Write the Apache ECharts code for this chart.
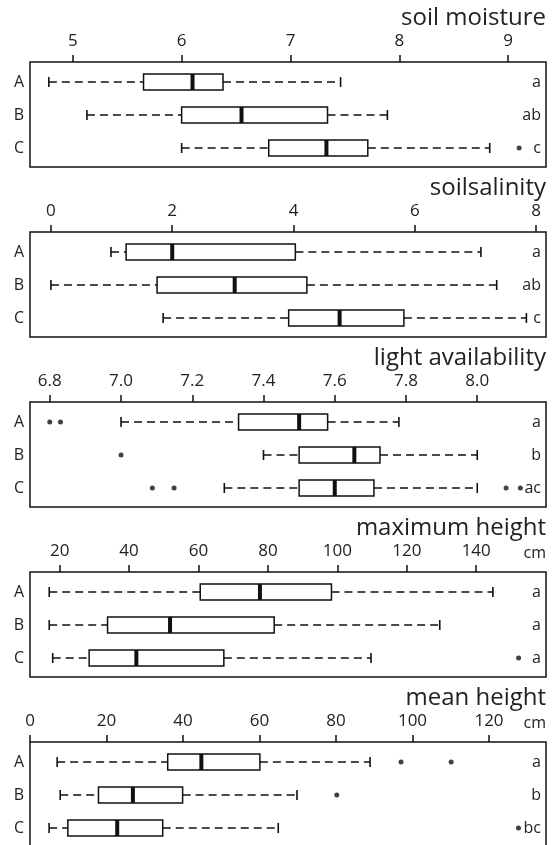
<!DOCTYPE html>
<html>
<head>
<meta charset="utf-8">
<script src="https://cdn.jsdelivr.net/npm/echarts@6/dist/echarts.min.js"></script>
<style>
  html, body { margin: 0; padding: 0; background: #fff; }
  #chart { width: 554px; height: 845px; }
</style>
</head>
<body>
<div id="chart"></div>
<script>
// ===== 数据 =====
const categories = ['A', 'B', 'C'];
const panelTitles = ['soil moisture', 'soilsalinity', 'light availability', 'maximum height', 'mean height'];
const panelUnits = ['', '', '', 'cm', 'cm'];

// [low whisker, Q1, median, Q3, high whisker] for A, B, C
const moistureStats = [[4.78, 5.65, 6.10, 6.38, 7.46], [5.13, 6.00, 6.55, 7.34, 7.89], [6.00, 6.80, 7.33, 7.71, 8.83]];
const salinityStats = [[0.99, 1.24, 2.00, 4.03, 7.09], [0.00, 1.75, 3.03, 4.22, 7.35], [1.85, 3.92, 4.76, 5.82, 7.84]];
const lightStats = [[7.00, 7.33, 7.50, 7.58, 7.78], [7.40, 7.50, 7.655, 7.727, 8.00], [7.29, 7.50, 7.60, 7.71, 8.00]];
const maxHeightStats = [[17.0, 60.5, 77.7, 98.3, 144.8], [17.0, 33.8, 51.8, 81.8, 129.5], [18.0, 28.5, 42.1, 67.3, 109.7]];
const meanHeightStats = [[7.1, 36.0, 44.8, 60.1, 88.9], [7.9, 17.9, 26.9, 39.9, 69.8], [5.0, 9.9, 22.8, 34.7, 64.9]];

// outliers: [value, category]
const moistureOutliers = [[9.10, 'C']];
const salinityOutliers = [];
const lightOutliers = [[6.80, 'A'], [6.83, 'A'], [7.00, 'B'], [7.088, 'C'], [7.149, 'C'], [8.081, 'C'], [8.121, 'C']];
const maxHeightOutliers = [[152.2, 'C']];
const meanHeightOutliers = [[97.0, 'A'], [110.1, 'A'], [80.2, 'B'], [127.7, 'C']];

// 显著性字母
const moistureLetters = ['a', 'ab', 'c'];
const salinityLetters = ['a', 'ab', 'c'];
const lightLetters = ['a', 'b', 'ac'];
const maxHeightLetters = ['a', 'a', 'a'];
const meanHeightLetters = ['a', 'b', 'bc'];

// 刻度与范围
const moistureTicks = [5, 6, 7, 8, 9];
const salinityTicks = [0, 2, 4, 6, 8];
const lightTicks = [6.8, 7.0, 7.2, 7.4, 7.6, 7.8, 8.0];
const maxHeightTicks = [20, 40, 60, 80, 100, 120, 140];
const meanHeightTicks = [0, 20, 40, 60, 80, 100, 120];

const moistureRange = [4.607, 9.347];
const salinityRange = [-0.345, 8.163];
const lightRange = [6.7445, 8.193];
const maxHeightRange = [11.46, 160.1];
const meanHeightRange = [0, 134.9];

const panels = [
    { stats: moistureStats, outliers: moistureOutliers, letters: moistureLetters, ticks: moistureTicks, range: moistureRange, digits: 0 },
    { stats: salinityStats, outliers: salinityOutliers, letters: salinityLetters, ticks: salinityTicks, range: salinityRange, digits: 0 },
    { stats: lightStats, outliers: lightOutliers, letters: lightLetters, ticks: lightTicks, range: lightRange, digits: 1 },
    { stats: maxHeightStats, outliers: maxHeightOutliers, letters: maxHeightLetters, ticks: maxHeightTicks, range: maxHeightRange, digits: 0 },
    { stats: meanHeightStats, outliers: meanHeightOutliers, letters: meanHeightLetters, ticks: meanHeightTicks, range: meanHeightRange, digits: 0 },
];

// ===== 布局 =====
const GRID_LEFT = 30;
const GRID_RIGHT = 8;
const GRID_TOP0 = 62;
const GRID_STEP = 170;
const GRID_H = 105;
const ROW_H = 33;        // px between rows
const ROW_PAD = 20;      // px from grid top to row A
const TEXT = '#222';
const LINE = '#111';
const FONT = '"Open Sans", "Noto Sans", sans-serif';

// ===== 箱线图绘制 =====
function renderBox(params, api) {
    const row = api.value(0);
    const low = api.coord([api.value(1), row]);
    const q1 = api.coord([api.value(2), row]);
    const med = api.coord([api.value(3), row]);
    const q3 = api.coord([api.value(4), row]);
    const high = api.coord([api.value(5), row]);
    const y = low[1];
    const boxH = 16;
    const capH = 10;
    const cs = params.coordSys;
    const dash = { stroke: LINE, lineWidth: 1.6, lineDash: [8, 5] };
    const solid = { stroke: LINE, lineWidth: 1.6 };
    const letters = panels[params.seriesIndex / 2 | 0].letters;

    return {
        type: 'group',
        children: [
            { type: 'line', shape: { x1: low[0], y1: y, x2: q1[0], y2: y }, style: dash },
            { type: 'line', shape: { x1: q3[0], y1: y, x2: high[0], y2: y }, style: dash },
            { type: 'line', shape: { x1: low[0], y1: y - capH / 2, x2: low[0], y2: y + capH / 2 }, style: solid },
            { type: 'line', shape: { x1: high[0], y1: y - capH / 2, x2: high[0], y2: y + capH / 2 }, style: solid },
            { type: 'rect', shape: { x: q1[0], y: y - boxH / 2, width: q3[0] - q1[0], height: boxH }, style: { fill: '#fff', stroke: LINE, lineWidth: 1.5 } },
            { type: 'rect', shape: { x: med[0] - 2, y: y - boxH / 2, width: 4, height: boxH }, style: { fill: LINE } },
            {
                type: 'text',
                x: cs.x + cs.width - 5,
                y: y,
                style: { text: letters[row], fill: TEXT, font: '16px ' + FONT, align: 'right', verticalAlign: 'middle' },
            },
        ],
    };
}

// ===== 组装 option =====
const grids = [], xAxes = [], yAxes = [], series = [], graphics = [];

panels.forEach((p, i) => {
    const top = GRID_TOP0 + i * GRID_STEP;
    // 最后一个面板超出画布底部
    const h = i === panels.length - 1 ? GRID_H + 20 : GRID_H;
    grids.push({
        left: GRID_LEFT, right: GRID_RIGHT, top: top, height: h,
        outerBoundsMode: 'none',
        show: true, borderColor: LINE, borderWidth: 1.5, backgroundColor: '#fff',
    });
    xAxes.push({
        type: 'value', gridIndex: i, position: 'top',
        min: p.range[0], max: p.range[1],
        splitLine: { show: false },
        axisLine: { show: false, onZero: false },
        axisTick: { show: true, length: 7, customValues: p.ticks, lineStyle: { color: LINE, width: 1.5 } },
        axisLabel: {
            customValues: p.ticks, margin: 12, color: TEXT, fontSize: 17, fontFamily: FONT,
            formatter: v => v.toFixed(p.digits),
        },
    });
    yAxes.push({
        type: 'value', gridIndex: i, inverse: true,
        min: -ROW_PAD / ROW_H, max: (h - ROW_PAD) / ROW_H,
        splitLine: { show: false },
        axisLine: { show: false, onZero: false }, axisTick: { show: false },
        axisLabel: {
            customValues: [0, 1, 2], margin: 6, color: TEXT, fontSize: 16, fontFamily: FONT,
            formatter: v => categories[v],
        },
    });
    series.push({
        type: 'custom', xAxisIndex: i, yAxisIndex: i,
        renderItem: renderBox,
        encode: { x: [1, 2, 3, 4, 5], y: 0 },
        data: p.stats.map((s, r) => [r].concat(s)),
        silent: true,
    });
    series.push({
        type: 'scatter', xAxisIndex: i, yAxisIndex: i,
        data: p.outliers.map(o => [o[0], categories.indexOf(o[1])]),
        symbol: 'circle', symbolSize: 5,
        itemStyle: { color: LINE },
        silent: true, z: 5,
    });
    graphics.push({
        type: 'text', right: GRID_RIGHT, top: top - 56,
        style: { text: panelTitles[i], fill: TEXT, font: '24px ' + FONT },
    });
    if (panelUnits[i]) {
        graphics.push({
            type: 'text', right: 8, top: top - 27,
            style: { text: panelUnits[i], fill: TEXT, font: '16px ' + FONT },
        });
    }
});

const chart = echarts.init(document.getElementById('chart'), null, { renderer: 'canvas' });
chart.setOption({
    backgroundColor: '#fff',
    animation: false,
    grid: grids,
    xAxis: xAxes,
    yAxis: yAxes,
    series: series,
    graphic: graphics,
});
</script>
</body>
</html>
